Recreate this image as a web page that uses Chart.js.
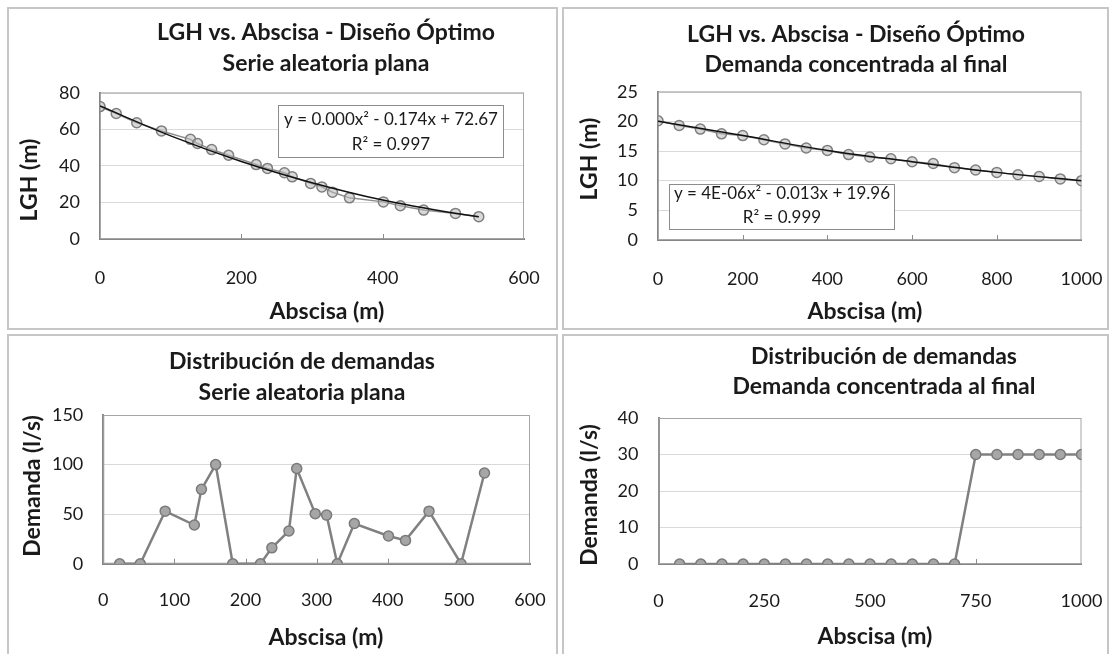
<!DOCTYPE html>
<html>
<head>
<meta charset="utf-8">
<script src="https://cdn.jsdelivr.net/npm/chart.js@4.4.1/dist/chart.umd.min.js"></script>
<style>
  body { margin: 0; background: #fff; width: 1111px; height: 654px; overflow: hidden; position: relative; }
  .panel { position: absolute; box-sizing: border-box; border: 2px solid #c6c6c6; background: #fff; }
  .panel canvas { display: block; }
</style>
</head>
<body>
<div class="panel" style="left:7px;top:7px;width:551px;height:323px"><canvas id="chartA1" width="547" height="319"></canvas></div>
<div class="panel" style="left:562px;top:7px;width:547px;height:323px"><canvas id="chartB1" width="543" height="319"></canvas></div>
<div class="panel" style="left:7px;top:334px;width:551px;height:330px"><canvas id="chartA2" width="547" height="326"></canvas></div>
<div class="panel" style="left:562px;top:334px;width:547px;height:330px"><canvas id="chartB2" width="543" height="326"></canvas></div>

<script>
// Serie aleatoria plana: abscisas of the nodes (m)
const abscisaA = [0, 23, 52, 87, 128, 138, 158, 182, 221, 237, 261, 272, 298, 314, 329, 353, 401, 425, 458, 503, 536];
// LGH at each node (m)
const lghA = [72.4, 68.6, 63.6, 59.1, 54.5, 52.2, 48.9, 45.8, 40.7, 38.6, 36.2, 34.0, 30.4, 28.5, 25.6, 22.5, 20.3, 18.2, 15.8, 14.0, 12.2];
// demand at each node after the first one (l/s)
const demandA = [0, 0, 53, 39, 75, 100, 0, 0, 16, 33, 96, 50.5, 49, 0, 40.5, 28, 23.5, 53, 0, 91.5];
// trendline
const trendXA = [0, 100, 200, 300, 400, 500, 536];
const trendYA = [72.7, 56.4, 42.4, 30.8, 21.3, 14.2, 12.2];

// Demanda concentrada al final
const abscisaB = [0, 50, 100, 150, 200, 250, 300, 350, 400, 450, 500, 550, 600, 650, 700, 750, 800, 850, 900, 950, 1000];
const lghB = [20.1, 19.3, 18.7, 17.9, 17.6, 16.9, 16.2, 15.5, 15.1, 14.4, 14.0, 13.7, 13.2, 12.9, 12.2, 11.8, 11.4, 11.0, 10.7, 10.3, 10.0];
const demandB = [0, 0, 0, 0, 0, 0, 0, 0, 0, 0, 0, 0, 0, 0, 30, 30, 30, 30, 30, 30];
const trendXB = [0, 200, 400, 600, 800, 1000];
const trendYB = [20.0, 17.6, 15.1, 13.2, 11.4, 10.0];

const titleLGH = "LGH vs. Abscisa - Diseño Óptimo";
const titleDem = "Distribución de demandas";
const subA = "Serie aleatoria plana";
const subB = "Demanda concentrada al final";
const eqA = ["y = 0.000x² - 0.174x + 72.67", "R² = 0.997"];
const eqB = ["y = 4E-06x² - 0.013x + 19.96", "R² = 0.999"];

const FONT = "Lato";
const TEXT = "#1a1a1a";

const toPoints = (xs, ys) => ys.map((y, i) => ({ x: xs[i], y: y }));

// frame around the plot area + small inside tick marks on the x axis
const plotFrame = {
  id: "plotFrame",
  beforeDatasetsDraw(chart) {
    const { ctx, chartArea: a, scales } = chart;
    ctx.save();
    ctx.strokeStyle = "#a6a6a6";
    ctx.lineWidth = 1;
    ctx.strokeRect(a.left + 0.5, a.top + 0.5, a.right - a.left - 1, a.bottom - a.top - 1);
    ctx.strokeStyle = "#8c8c8c";
    scales.x.ticks.forEach((t) => {
      if (t.value === scales.x.min || t.value === scales.x.max) return;
      const px = Math.round(scales.x.getPixelForValue(t.value)) + 0.5;
      ctx.beginPath();
      ctx.moveTo(px, a.bottom);
      ctx.lineTo(px, a.bottom - 5);
      ctx.stroke();
    });
    ctx.restore();
  },
};

// Excel-like trendline equation box
const equationBox = {
  id: "equationBox",
  afterDatasetsDraw(chart, args, opts) {
    if (!opts || !opts.lines) return;
    const { ctx, chartArea: a } = chart;
    const x = Math.round(a.left + opts.dx) + 0.5;
    const y = Math.round(a.top + opts.dy) + 0.5;
    ctx.save();
    ctx.fillStyle = "#fff";
    ctx.fillRect(x, y, opts.w, opts.h);
    ctx.strokeStyle = "#8c8c8c";
    ctx.lineWidth = 1;
    ctx.strokeRect(x, y, opts.w, opts.h);
    ctx.fillStyle = TEXT;
    ctx.font = "17px " + FONT;
    ctx.textAlign = "center";
    ctx.textBaseline = "middle";
    opts.lines.forEach((t, i) => ctx.fillText(t, x + opts.w / 2, y + opts.lineY[i]));
    ctx.restore();
  },
};

// chart title and axis titles, placed like the Excel originals
const panelText = {
  id: "panelText",
  afterDraw(chart, args, opts) {
    const ctx = chart.ctx;
    ctx.save();
    ctx.fillStyle = TEXT;
    ctx.textAlign = "center";
    ctx.textBaseline = "middle";
    ctx.font = "bold 23px " + FONT;
    opts.title.forEach((t, i) => ctx.fillText(t, opts.titleX, opts.titleY[i]));
    ctx.fillText(opts.xTitle, opts.xTitleAt[0], opts.xTitleAt[1]);
    ctx.translate(opts.yTitleAt[0], opts.yTitleAt[1]);
    ctx.rotate(-Math.PI / 2);
    ctx.fillText(opts.yTitle, 0, 0);
    ctx.restore();
  },
};

function buildChart(id, cfg) {
  const ctx = document.getElementById(id).getContext("2d");
  const canvasW = ctx.canvas.width;
  const canvasH = ctx.canvas.height;
  return new Chart(ctx, {
    type: "scatter",
    data: { datasets: cfg.datasets },
    options: {
      responsive: false,
      animation: false,
      layout: { padding: { left: 0, right: canvasW - cfg.area.right, top: cfg.area.top, bottom: 0 } },
      plugins: {
        legend: { display: false },
        tooltip: { enabled: false },
        title: { display: false },
        equationBox: cfg.eq || false,
        panelText: cfg.text,
      },
      scales: {
        x: {
          type: "linear",
          min: cfg.xMin,
          max: cfg.xMax,
          afterFit: (s) => {
            s.height = canvasH - cfg.area.bottom;
            s.paddingLeft = 0;
            s.paddingRight = 0;
          },
          ticks: {
            stepSize: cfg.xStep,
            padding: cfg.xTickPad,
            color: TEXT,
            font: { family: FONT, size: 18 },
            callback: (v) => String(v),
          },
          grid: { drawOnChartArea: false, drawTicks: false },
          border: { color: "#868686", width: 2 },
        },
        y: {
          min: cfg.yMin,
          max: cfg.yMax,
          afterFit: (s) => {
            s.width = cfg.area.left;
            s.paddingTop = 0;
            s.paddingBottom = 0;
          },
          ticks: {
            stepSize: cfg.yStep,
            padding: 20,
            color: TEXT,
            font: { family: FONT, size: 18 },
            callback: (v) => String(v),
          },
          grid: { color: "#d9d9d9", lineWidth: 1, drawTicks: false },
          border: { color: "#868686", width: 2 },
        },
      },
    },
    plugins: [plotFrame, equationBox, panelText],
  });
}

const lghStyle = {
  showLine: true,
  borderColor: "#8c8c8c",
  borderWidth: 1.5,
  pointRadius: 5,
  pointBackgroundColor: "rgba(185,185,185,0.55)",
  pointBorderColor: "#7f7f7f",
  pointBorderWidth: 1.5,
};
const trendStyle = {
  showLine: true,
  borderColor: "#111",
  borderWidth: 1.5,
  pointRadius: 0,
  cubicInterpolationMode: "monotone",
};
const demandStyle = {
  showLine: true,
  borderColor: "#808080",
  borderWidth: 2.5,
  pointRadius: 5,
  pointBackgroundColor: "#a6a6a6",
  pointBorderColor: "#7a7a7a",
  pointBorderWidth: 1.5,
};

document.addEventListener("DOMContentLoaded", () => {
  // LGH - serie aleatoria plana
  buildChart("chartA1", {
    area: { left: 91, right: 515, top: 83.7, bottom: 230 },
    xMin: 0, xMax: 600, xStep: 200, xTickPad: 28,
    yMin: 0, yMax: 80, yStep: 20,
    text: {
      title: [titleLGH, subA], titleX: 317, titleY: [24, 55],
      xTitle: "Abscisa (m)", xTitleAt: [318, 303],
      yTitle: "LGH (m)", yTitleAt: [21, 171],
    },
    eq: { lines: eqA, dx: 178, dy: 12.3, w: 225, h: 52, lineY: [14, 39] },
    datasets: [
      Object.assign({ data: toPoints(trendXA, trendYA) }, trendStyle),
      Object.assign({ data: toPoints(abscisaA, lghA) }, lghStyle),
    ],
  });

  // LGH - demanda concentrada al final
  buildChart("chartB1", {
    area: { left: 94, right: 517.5, top: 82.7, bottom: 231 },
    xMin: 0, xMax: 1000, xStep: 200, xTickPad: 28,
    yMin: 0, yMax: 25, yStep: 5,
    text: {
      title: [titleLGH, subB], titleX: 292, titleY: [26, 56],
      xTitle: "Abscisa (m)", xTitleAt: [301, 303],
      yTitle: "LGH (m)", yTitleAt: [26, 150],
    },
    eq: { lines: eqB, dx: 10.5, dy: 92, w: 225, h: 45, lineY: [9, 33] },
    datasets: [
      Object.assign({ data: toPoints(trendXB, trendYB) }, trendStyle),
      Object.assign({ data: toPoints(abscisaB, lghB) }, lghStyle),
    ],
  });

  // demandas - serie aleatoria plana
  buildChart("chartA2", {
    area: { left: 94.3, right: 521, top: 79, bottom: 227.7 },
    xMin: 0, xMax: 600, xStep: 100, xTickPad: 26,
    yMin: 0, yMax: 150, yStep: 50,
    text: {
      title: [titleDem, subA], titleX: 293, titleY: [26, 57],
      xTitle: "Abscisa (m)", xTitleAt: [317, 302],
      yTitle: "Demanda (l/s)", yTitleAt: [24, 150],
    },
    datasets: [Object.assign({ data: toPoints(abscisaA.slice(1), demandA) }, demandStyle)],
  });

  // demandas - demanda concentrada al final
  buildChart("chartB2", {
    area: { left: 94.5, right: 517.5, top: 82, bottom: 228 },
    xMin: 0, xMax: 1000, xStep: 250, xTickPad: 26,
    yMin: 0, yMax: 40, yStep: 10,
    text: {
      title: [titleDem, subB], titleX: 320, titleY: [21, 51],
      xTitle: "Abscisa (m)", xTitleAt: [311, 301],
      yTitle: "Demanda (l/s)", yTitleAt: [26, 159],
    },
    datasets: [Object.assign({ data: toPoints(abscisaB.slice(1), demandB) }, demandStyle)],
  });
});
</script>
</body>
</html>
